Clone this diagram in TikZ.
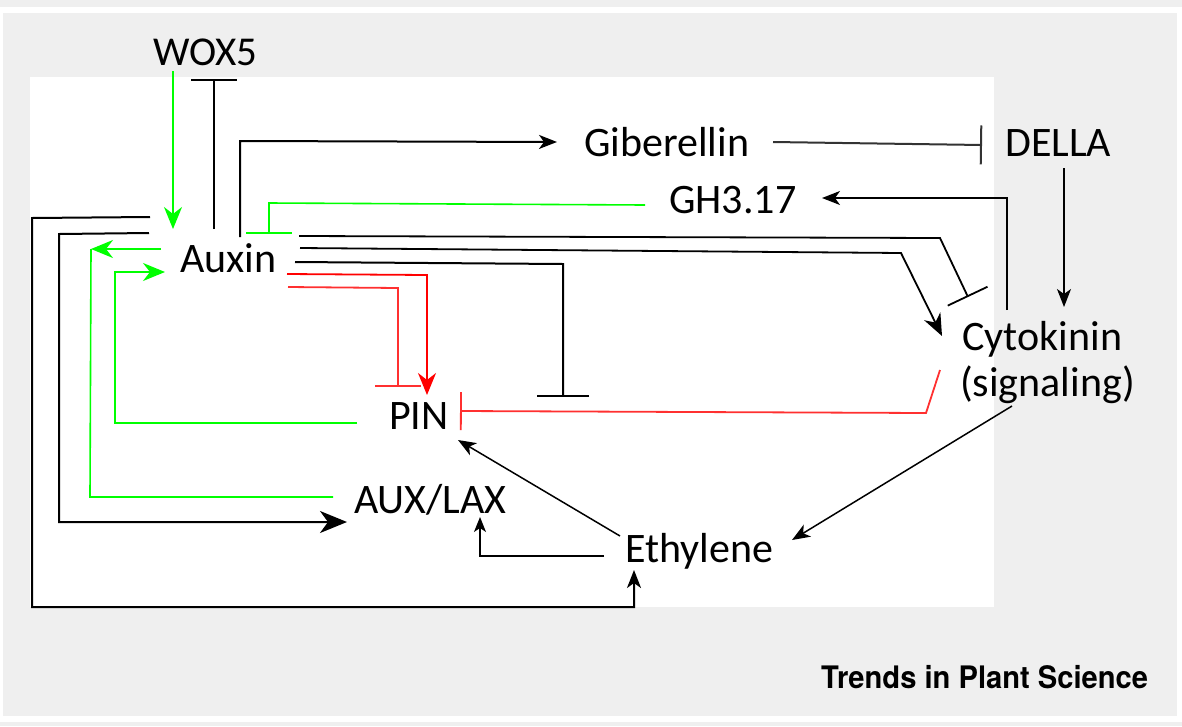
\documentclass[tikz,border=0pt]{standalone}
\usepackage{fontspec}
\setmainfont{Carlito}
\newfontfamily\trendsfont{TeX Gyre Heros}
\usetikzlibrary{arrows.meta}
\definecolor{panel}{HTML}{EFEFEF}
\definecolor{grn}{HTML}{00FF00}
\definecolor{rd}{HTML}{FF0000}
\definecolor{rdl}{HTML}{FF3030}
\tikzset{
  lbl/.style={font=\fontsize{42}{46}\selectfont, inner sep=0pt, anchor=base west},
  blk/.style={draw=black, line width=2pt},
  thinblk/.style={draw=black, line width=1.5pt},
  gline/.style={draw=grn, line width=1.6pt},
  rline/.style={draw=rd, line width=1.8pt},
  rlline/.style={draw=rdl, line width=1.8pt},
  AB/.tip={Stealth[length=22pt,width=18pt,inset=7pt]},
  AM/.tip={Stealth[length=18pt,width=14pt,inset=5pt]},
  AS/.tip={Stealth[length=15pt,width=12pt,inset=4pt]},
  AX/.tip={Stealth[length=27pt,width=22pt,inset=8pt]},
}
\begin{document}
\begin{tikzpicture}[x=1pt,y=-1pt]
\useasboundingbox (0,0) rectangle (1182,726);
% background
\fill[white] (0,0) rectangle (1182,726);
\fill[panel] (0,0) rectangle (1182,7);
\fill[panel] (3,13) rectangle (1177,716);
\fill[panel] (0,722) rectangle (1182,726);
\fill[white] (30,77) rectangle (994,607);

% labels
\node[lbl,font=\fontsize{41}{46}\selectfont] (wox) at (153,65) {WOX5};
\node[lbl] (auxin) at (180,272) {Auxin};
\node[lbl] (gib) at (584,156) {Giberellin};
\node[lbl] (della) at (1005,156) {DELLA};
\node[lbl] (gh) at (669,213) {GH3.17};
\node[lbl] (cyto) at (962,350) {Cytokinin};
\node[lbl] (cytosig) at (960,396) {(signaling)};
\node[lbl] (pin) at (389,429) {PIN};
\node[lbl] (aux) at (354,513) {AUX/LAX};
\node[lbl] (eth) at (625,562) {Ethylene};
\node[anchor=base west, inner sep=0pt] (logo) at (821,688)
  {\scalebox{0.94}[1]{\trendsfont\bfseries\fontsize{31}{34}\selectfont Trends in Plant Science}};

% connector end points
\coordinate (wox-a) at (173,71);   \coordinate (aux-a) at (173,229);
\coordinate (aux-b) at (214,229);  \coordinate (wox-b) at (214,79);
\coordinate (aux-c) at (240,237);  \coordinate (gib-c) at (557,142);
\coordinate (gib-d) at (773,142);  \coordinate (della-d) at (982,145);
\coordinate (della-e) at (1064,168); \coordinate (cyto-e) at (1064,307);
\coordinate (cyto-f) at (1007,310); \coordinate (gh-f) at (822,198);
\coordinate (gh-g) at (645,205);   \coordinate (aux-g) at (269,234);
\coordinate (aux-h) at (299,236);  \coordinate (cyto-h) at (968,297);
\coordinate (aux-i) at (300,248);  \coordinate (cyto-i) at (942,336);
\coordinate (aux-j) at (295,262);  \coordinate (pin-j) at (563,397);
\coordinate (aux-k) at (287,274);  \coordinate (pin-k) at (427,395);
\coordinate (aux-l) at (288,287);  \coordinate (pin-l) at (398,387);
\coordinate (cyto-m) at (940,370); \coordinate (pin-m) at (460,411);
\coordinate (aux-n) at (161,249);  \coordinate (corner-n) at (91,249);
\coordinate (laxn) at (333,497);
\coordinate (pin-o) at (357,423);  \coordinate (aux-o) at (165,272);
\coordinate (aux-p) at (150,217);  \coordinate (eth-p) at (634,570);
\coordinate (aux-q) at (149,233);  \coordinate (lax-q) at (347,522);
\coordinate (eth-r) at (604,556);  \coordinate (lax-r) at (480,517);
\coordinate (eth-s) at (620,536);  \coordinate (pin-s) at (458,440);
\coordinate (cyto-t) at (1012,406); \coordinate (eth-t) at (792,540);

% WOX5 <-> Auxin
\draw[gline,-{AB}] (wox-a) -- (aux-a);
\draw[blk,-{Bar[width=46pt]}] (aux-b) -- (wox-b);
% Auxin -> Giberellin
\draw[blk,-{AM}] (aux-c) -- (240,141) -- (gib-c);
% Giberellin -| DELLA
\draw[blk,draw=black!80,-{Bar[width=39pt]}] (gib-d) -- (della-d);
% DELLA -> Cytokinin
\draw[thinblk,-{AM}] (della-e) -- (cyto-e);
% Cytokinin -> GH3.17
\draw[thinblk,-{AM}] (cyto-f) -- (1007,198) -- (gh-f);
% GH3.17 -| Auxin
\draw[gline,-{Bar[width=46pt]}] (gh-g) -- (269,203) -- (aux-g);
% Auxin -| Cytokinin
\draw[blk,line width=1.8pt,-{Bar[width=44pt]}] (aux-h) -- (940,238) -- (cyto-h);
% Auxin -> Cytokinin
\draw[blk,line width=1.8pt,-{AB}] (aux-i) -- (901,253) -- (cyto-i);
% Auxin -| PIN (black)
\draw[blk,-{Bar[width=52pt]}] (aux-j) -- (563,264) -- (pin-j);
% Auxin -> PIN (red)
\draw[rline,-{AB}] (aux-k) -- (427,275) -- (pin-k);
% Auxin -| PIN (red)
\draw[rlline,-{Bar[width=46pt]}] (aux-l) -- (398,288) -- (pin-l);
% Cytokinin -| PIN (red)
\draw[rlline,-{Bar[width=38pt]}] (cyto-m) -- (926,413) -- (pin-m);
% Auxin -> AUX/LAX (green)
\draw[gline,-{AB}] (aux-n) -- (corner-n);
\draw[gline] (corner-n) -- (90,497) -- (laxn);
% PIN -> Auxin (green)
\draw[gline,-{AB}] (pin-o) -- (115,423) -- (115,272) -- (aux-o);
% Auxin -> Ethylene
\draw[blk,-{AM}] (aux-p) -- (32,218) -- (32,607) -- (634,607) -- (eth-p);
% Auxin -> AUX/LAX (black)
\draw[blk,-{AX}] (aux-q) -- (59,234) -- (59,522) -- (lax-q);
% Ethylene -> AUX/LAX
\draw[thinblk,-{AS}] (eth-r) -- (480,556) -- (lax-r);
% Ethylene -> PIN
\draw[thinblk,-{AM}] (eth-s) -- (pin-s);
% Cytokinin -> Ethylene
\draw[thinblk,-{AM}] (cyto-t) -- (eth-t);
\end{tikzpicture}
\end{document}
